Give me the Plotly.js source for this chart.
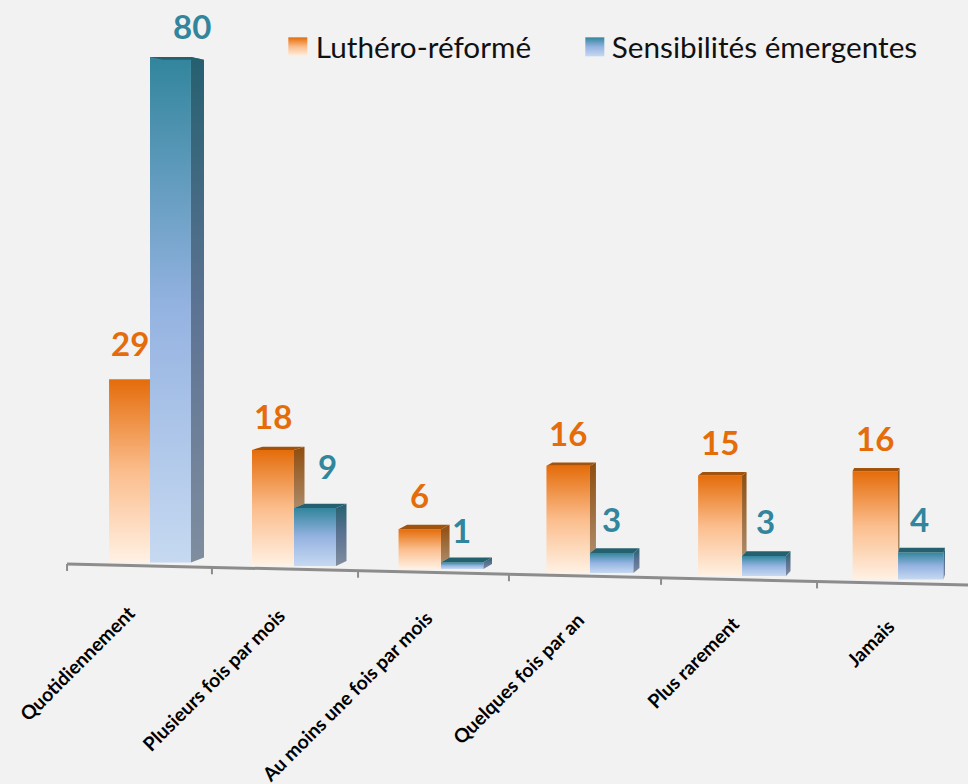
<!DOCTYPE html>
<html><head><meta charset="utf-8">
<script src="https://cdn.plot.ly/plotly-3.0.1.min.js"></script>
<style>html,body{margin:0;padding:0;background:#f2f2f2;overflow:hidden}#c{width:968px;height:784px}</style>
</head><body><div id="c"></div>
<script>
const categories = ["Quotidiennement","Plusieurs fois par mois","Au moins une fois par mois","Quelques fois par an","Plus rarement","Jamais"];
const lutheroReforme = [29,18,6,16,15,16];
const sensibilites = [80,9,1,3,3,4];
const seriesNames = ["Luthéro-réformé","Sensibilités émergentes"];
// The reference is a perspective view: groups drift, widen and sit lower to the right.
const groupPos = [1.0,1.96,2.94,3.933,4.947,5.987];
const barWidth = [0.273,0.28,0.283,0.29,0.293,0.303];
const floorLevel = [0,-0.55,-1.03,-1.66,-2.14,-2.69];
const perspective = [1,1.02,1.05,1.06,1.06,1.07];
const depthX = [0.087,0.07,0.057,0.04,0.03,0.01];
const depthY = 0.8, depthFall = 0.0158;
const tickPos = [0.447,1.413,2.387,3.393,4.407,5.447];
const axisStart = [0.447,-0.24], axisEnd = [6.4533,-3.56];
const labelPos = [0.953,1.947,2.927,3.94,4.973,6.013];
const labelLevel = [-5.6,-6.1,-6.5,-6.9,-7.3,-7.8];
const valueShiftO = [0,0,0,0,0,0], valueShiftB = [22,12,-1,0,1,-1];
const valueRiseO = [36,34,34,33,34,33], valueRiseB = [31,42,32,34,35,33];
const legendTextNudge = [-2,-3];

const ORANGE="#e46c0a", TEAL="#31859c";
const n=categories.length, I=[...Array(n).keys()];
const hO=I.map(i=>lutheroReforme[i]*perspective[i]), hB=I.map(i=>sensibilites[i]*perspective[i]);
const bar=(name,y,offset,color)=>({type:"bar",name,x:groupPos,y,base:floorLevel,width:barWidth,offset,
  marker:{color,line:{width:0}},hoverinfo:"skip",showlegend:true});
const poly=(xs,ys,color,role)=>({type:"scatter",mode:"lines",x:xs.concat(xs[0]),y:ys.concat(ys[0]),fill:"toself",
  fillcolor:color,line:{width:0},hoverinfo:"skip",showlegend:false,meta:role});
const back=h=>depthY-depthFall*h;

const traces=[bar(seriesNames[0],hO,barWidth.map(w=>-w),ORANGE),bar(seriesNames[1],hB,barWidth.map(()=>0),TEAL)];
I.forEach(i=>{
  const p=groupPos[i],w=barWidth[i],d=depthX[i],f=floorLevel[i];
  const tO=f+hO[i],tB=f+hB[i],bO=tO+back(hO[i]),bB=tB+back(hB[i]);
  if(hO[i]>hB[i]){
    traces.push(poly([p,p+d,p+d,p],[tO,bO,Math.max(bB,f),Math.max(tB,f)],"#8f4d0d","sideO"));
    traces.push(poly([p-w,p-w+d,p+d,p],[tO,bO,bO,tO],"#a2520b","top"));
  }
  traces.push(poly([p+w,p+w+d,p+w+d,p+w],[tB,bB,f+depthY,f],"#25606f","sideB"));
  traces.push(poly([p,p+d,p+w+d,p+w],[tB,bB,bB,tB],"#25606f","top"));
});
const ax=[axisStart[0],axisEnd[0]],ay=[axisStart[1],axisEnd[1]];
const axisY=x=>ay[0]+(x-ax[0])*(ay[1]-ay[0])/(ax[1]-ax[0]);
traces.push({type:"scatter",mode:"lines",x:ax,y:ay,line:{color:"#8c8c8c",width:3},hoverinfo:"skip",showlegend:false});
const tx=[],ty=[];
tickPos.forEach(t=>{tx.push(t,t,null);ty.push(axisY(t),axisY(t)-1.1,null);});
traces.push({type:"scatter",mode:"lines",x:tx,y:ty,line:{color:"#8c8c8c",width:2},hoverinfo:"skip",showlegend:false});

const annotations=[];
I.forEach(i=>{
  const vf={family:"Lato, sans-serif",size:33,weight:700};
  annotations.push({x:groupPos[i]-barWidth[i]/2,y:floorLevel[i]+hO[i],text:String(lutheroReforme[i]),showarrow:false,
    xanchor:"center",yanchor:"middle",xshift:valueShiftO[i],yshift:valueRiseO[i],font:Object.assign({color:ORANGE},vf)});
  annotations.push({x:groupPos[i]+barWidth[i]/2,y:floorLevel[i]+hB[i],text:String(sensibilites[i]),showarrow:false,
    xanchor:"center",yanchor:"middle",xshift:valueShiftB[i],yshift:valueRiseB[i],font:Object.assign({color:TEAL},vf)});
  annotations.push({x:labelPos[i],y:labelLevel[i],text:categories[i],showarrow:false,textangle:-45,
    xanchor:"right",yanchor:"top",font:{family:"Lato, sans-serif",size:19.3,weight:700,color:"#000"}});
});

const layout={width:968,height:784,margin:{l:0,r:0,t:0,b:0,autoexpand:false},paper_bgcolor:"#f2f2f2",plot_bgcolor:"#f2f2f2",
  barmode:"overlay",showlegend:true,
  xaxis:{visible:false,range:[0,6.4533],fixedrange:true},
  yaxis:{visible:false,range:[-35.05,89],fixedrange:true},
  legend:{orientation:"h",x:0.287,xanchor:"left",y:0.94,yanchor:"middle",bgcolor:"rgba(0,0,0,0)",
    font:{family:"Lato, sans-serif",size:29.7,color:"#111"},entrywidth:252,entrywidthmode:"pixels",itemclick:false,itemdoubleclick:false},
  annotations};

function grad(defs,id,stops){
  const NS="http://www.w3.org/2000/svg",g=document.createElementNS(NS,"linearGradient");
  g.setAttribute("id",id);g.setAttribute("x1","0");g.setAttribute("y1","0");g.setAttribute("x2","0");g.setAttribute("y2","1");
  stops.forEach(([o,c])=>{const s=document.createElementNS(NS,"stop");s.setAttribute("offset",o);s.setAttribute("stop-color",c);g.appendChild(s);});
  defs.appendChild(g);
}
Plotly.newPlot("c",traces,layout,{displayModeBar:false}).then(gd=>{
  const defs=gd.querySelector(".main-svg defs");
  grad(defs,"gO",[[0,"#e46c0a"],[.5,"#fbbd8c"],[1,"#fff1e4"]]);
  grad(defs,"gB",[[0,"#31859c"],[.5,"#95b3e1"],[1,"#c6d9f1"]]);
  grad(defs,"gSO",[[0,"#8f4d0d"],[1,"#ac8a68"]]);
  grad(defs,"gSB",[[0,"#25606f"],[.5,"#5d7393"],[1,"#7f8d9f"]]);
  const bt=gd.querySelectorAll(".barlayer .trace");
  bt[0].querySelectorAll("path").forEach(p=>p.style.fill="url(#gO)");
  bt[1].querySelectorAll("path").forEach(p=>p.style.fill="url(#gB)");
  const st=gd.querySelectorAll(".scatterlayer .trace"),sc=gd.data.filter(t=>t.type==="scatter");
  st.forEach((node,k)=>{
    const role=sc[k]&&sc[k].meta,f=node.querySelector("path.js-fill");
    if(f&&role==="sideO")f.style.fill="url(#gSO)";
    if(f&&role==="sideB")f.style.fill="url(#gSB)";
  });
  const box=gd.querySelector(".legend .scrollbox");
  if(box){box.removeAttribute("clip-path");box.style.clipPath="none";}
  gd.querySelectorAll(".legend .traces").forEach((tr,k)=>{
    const p=tr.querySelector(".legendpoints path");
    if(p){p.setAttribute("d","M9.5,9.5H-9.5V-9.5H9.5Z");p.style.fill=k===0?"url(#gO)":"url(#gB)";p.style.stroke="none";}
    const t=tr.querySelector("text.legendtext");
    if(t)t.setAttribute("transform","translate("+legendTextNudge[k]+",0)");
  });
});
</script></body></html>
